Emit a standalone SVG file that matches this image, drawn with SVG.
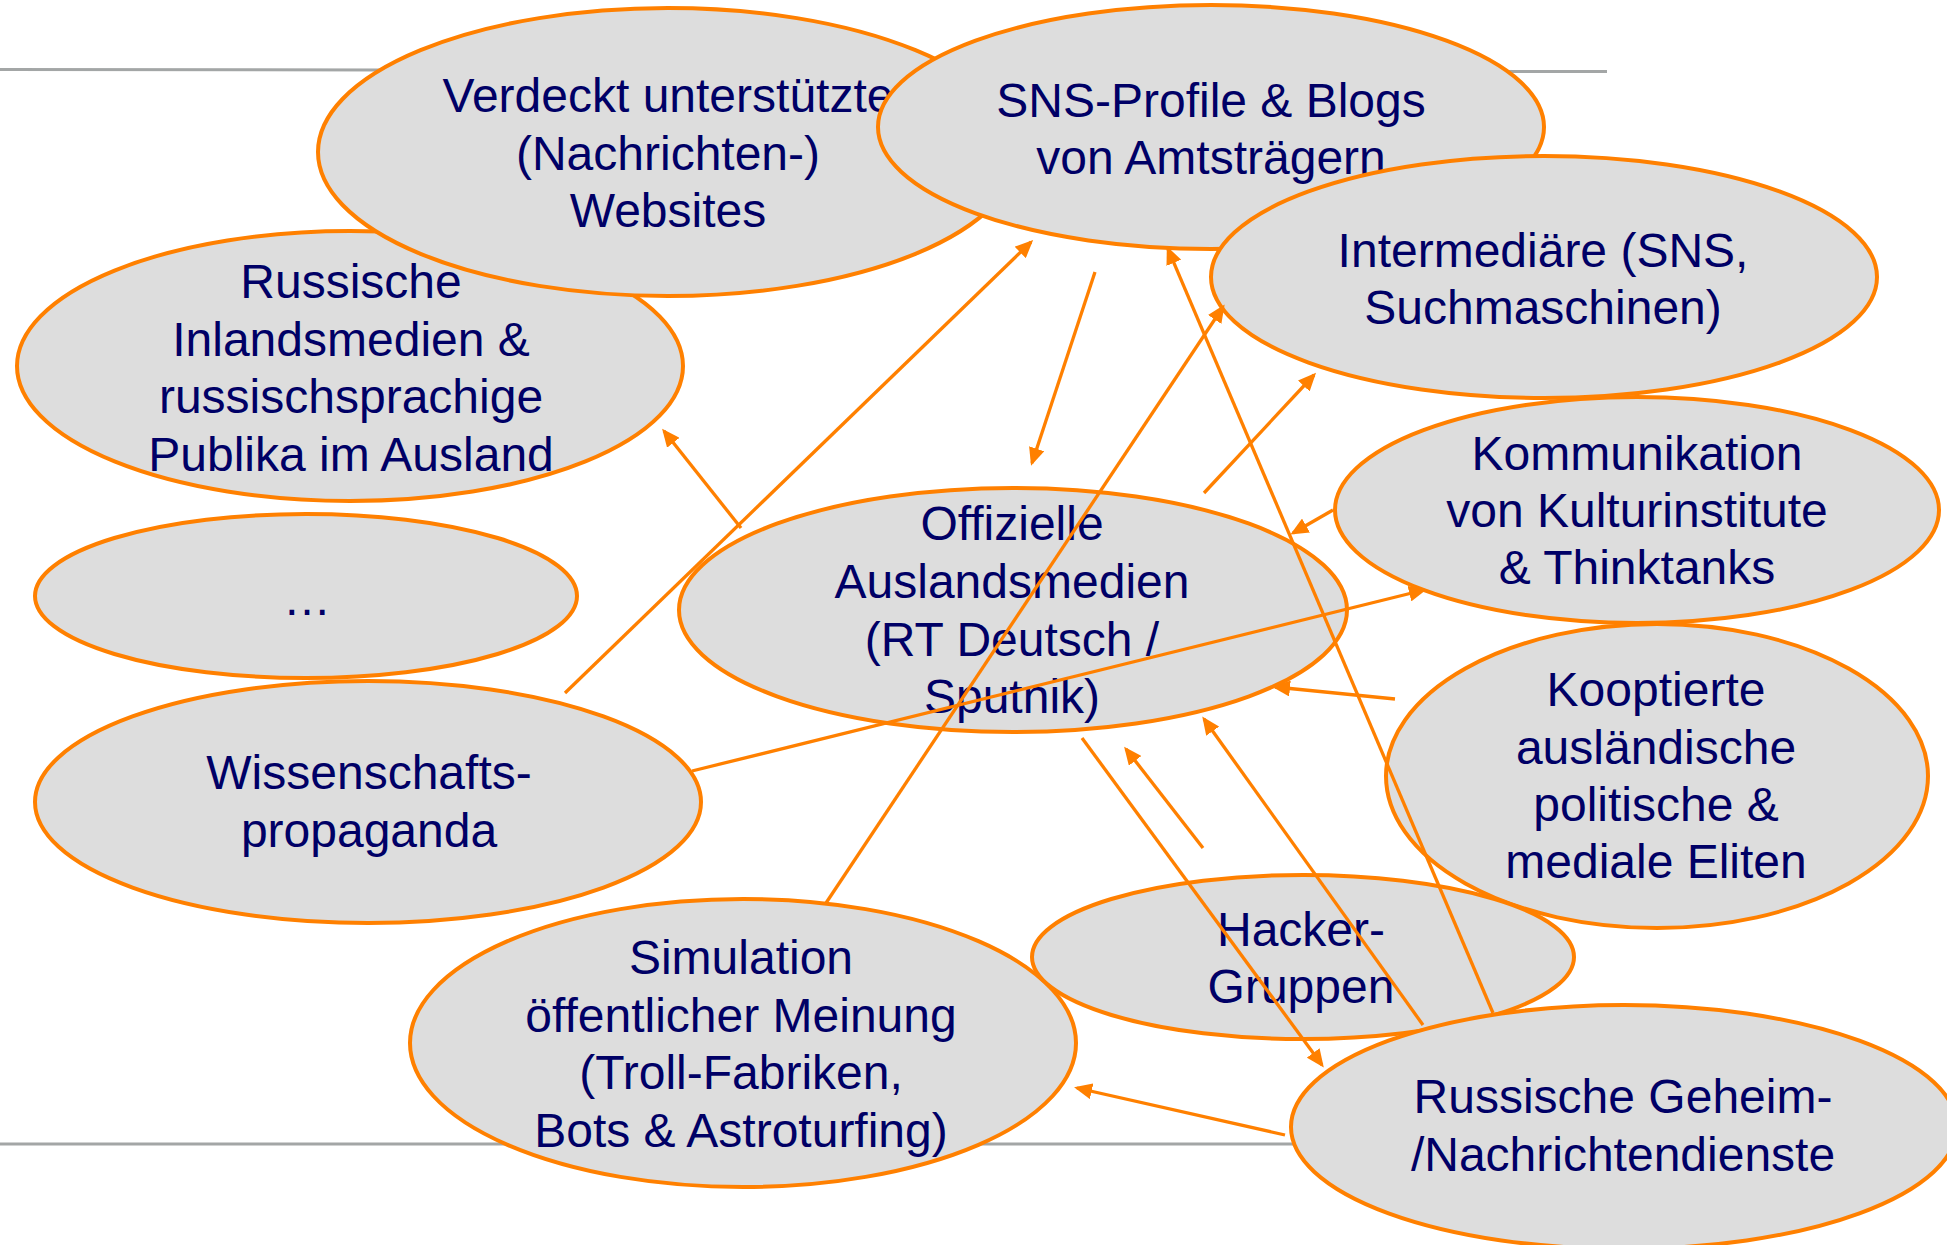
<svg xmlns="http://www.w3.org/2000/svg" width="1947" height="1245" viewBox="0 0 1947 1245">
<style>
.n{fill:#DDDDDD;stroke:#FF8000;stroke-width:4}
.t{font-family:"Liberation Sans",Arial,sans-serif;font-size:48px;fill:#000066;text-anchor:middle}
.c line{stroke:#FF8000;stroke-width:3.3;marker-end:url(#ah)}
.g{stroke:#A3A6A6;stroke-width:3}
</style>
<defs>
<marker id="ah" markerUnits="userSpaceOnUse" markerWidth="18" markerHeight="16" refX="15" refY="8" orient="auto">
<path d="M0,0 L18,8 L0,16 z" fill="#FF8000"/>
</marker>
</defs>
<rect width="1947" height="1245" fill="#FFFFFF"/>
<line class="g" x1="0" y1="69.5" x2="1607" y2="71.5"/>
<line class="g" x1="0" y1="1144" x2="1607" y2="1144"/>
<g id="russ-inland"><ellipse class="n" cx="350" cy="366" rx="333" ry="135"/>
<text class="t" x="351"><tspan x="351" y="298">Russische</tspan><tspan x="351" y="355.5">Inlandsmedien &amp;</tspan><tspan x="351" y="413">russischsprachige</tspan><tspan x="351" y="470.5">Publika im Ausland</tspan></text></g>
<g id="verdeckt"><ellipse class="n" cx="668" cy="152" rx="350" ry="144"/>
<text class="t"><tspan x="668" y="112">Verdeckt unterstützte</tspan><tspan x="668" y="169.5">(Nachrichten-)</tspan><tspan x="668" y="227">Websites</tspan></text></g>
<g id="sns"><ellipse class="n" cx="1211" cy="127" rx="333" ry="122"/>
<text class="t"><tspan x="1211" y="117">SNS-Profile &amp; Blogs</tspan><tspan x="1211" y="174">von Amtsträgern</tspan></text></g>
<g id="intermediaere"><ellipse class="n" cx="1544" cy="277" rx="333" ry="121"/>
<text class="t"><tspan x="1543" y="267">Intermediäre (SNS,</tspan><tspan x="1543" y="324">Suchmaschinen)</tspan></text></g>
<g id="kommunikation"><ellipse class="n" cx="1637" cy="510" rx="302" ry="113"/>
<text class="t"><tspan x="1637" y="470">Kommunikation</tspan><tspan x="1637" y="527">von Kulturinstitute</tspan><tspan x="1637" y="584">&amp; Thinktanks</tspan></text></g>
<g id="etc"><ellipse class="n" cx="306" cy="596" rx="271" ry="82"/>
<text class="t" x="307" y="615">…</text></g>
<g id="offizielle"><ellipse class="n" cx="1013" cy="610" rx="334" ry="122"/>
<text class="t"><tspan x="1012" y="540">Offizielle</tspan><tspan x="1012" y="597.5">Auslandsmedien</tspan><tspan x="1012" y="655.5">(RT Deutsch /</tspan><tspan x="1012" y="713">Sputnik)</tspan></text></g>
<g id="kooptierte"><ellipse class="n" cx="1657" cy="776" rx="271" ry="152"/>
<text class="t"><tspan x="1656" y="706">Kooptierte</tspan><tspan x="1656" y="763.5">ausländische</tspan><tspan x="1656" y="821">politische &amp;</tspan><tspan x="1656" y="878">mediale Eliten</tspan></text></g>
<g id="wissenschaft"><ellipse class="n" cx="368" cy="802" rx="333" ry="121"/>
<text class="t"><tspan x="369" y="789">Wissenschafts-</tspan><tspan x="369" y="847">propaganda</tspan></text></g>
<g id="simulation"><ellipse class="n" cx="743" cy="1043" rx="333" ry="144"/>
<text class="t"><tspan x="741" y="974">Simulation</tspan><tspan x="741" y="1032">öffentlicher Meinung</tspan><tspan x="741" y="1089">(Troll-Fabriken,</tspan><tspan x="741" y="1147">Bots &amp; Astroturfing)</tspan></text></g>
<g id="hacker"><ellipse class="n" cx="1303" cy="957" rx="271" ry="82"/>
<text class="t"><tspan x="1301" y="946">Hacker-</tspan><tspan x="1301" y="1003">Gruppen</tspan></text></g>
<g id="geheim"><ellipse class="n" cx="1624" cy="1127" rx="333" ry="122"/>
<text class="t"><tspan x="1623" y="1113">Russische Geheim-</tspan><tspan x="1623" y="1171">/Nachrichtendienste</tspan></text></g>
<g id="connectors" class="c">
<line x1="565" y1="693" x2="1031" y2="242"/>
<line x1="1095" y1="272" x2="1032" y2="463"/>
<line x1="826" y1="903" x2="1223" y2="307"/>
<line x1="1493" y1="1013" x2="1168" y2="249"/>
<line x1="1204" y1="493" x2="1314" y2="375"/>
<line x1="1333" y1="510" x2="1293" y2="533"/>
<line x1="741" y1="528" x2="664" y2="431"/>
<line x1="692" y1="771" x2="1424" y2="590"/>
<line x1="1395" y1="699" x2="1275" y2="687"/>
<line x1="1082" y1="738" x2="1322" y2="1065"/>
<line x1="1203" y1="848" x2="1126" y2="749"/>
<line x1="1423" y1="1025" x2="1204" y2="719"/>
<line x1="1285" y1="1135" x2="1077" y2="1088"/>
</g>
</svg>
